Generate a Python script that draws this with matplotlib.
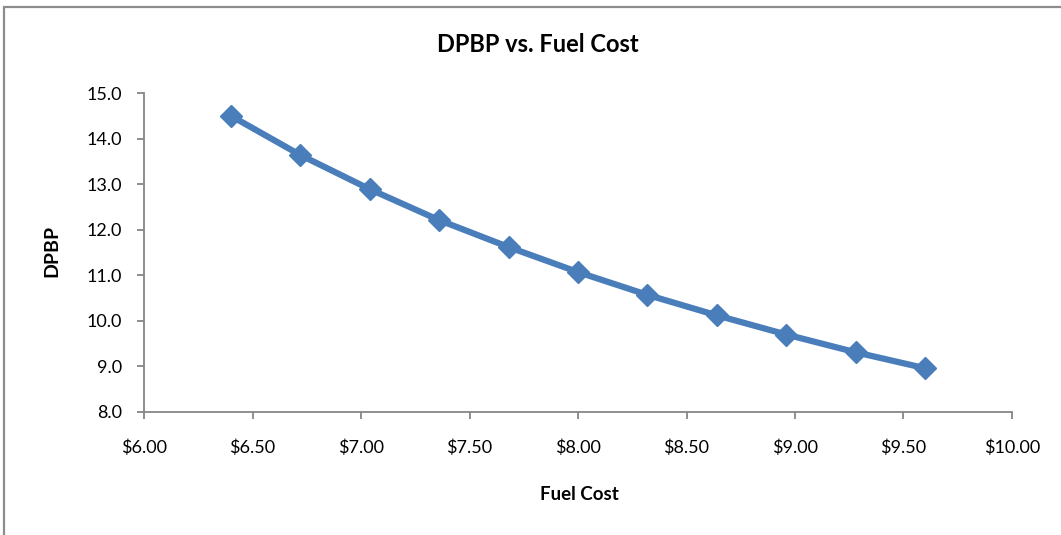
import matplotlib
matplotlib.use("Agg")
import matplotlib.pyplot as plt
from matplotlib.patches import Rectangle
from matplotlib.ticker import FuncFormatter, MultipleLocator

# Discounted payback period versus fuel cost
fuel_cost = [6.40, 6.72, 7.04, 7.36, 7.68, 8.00, 8.32, 8.64, 8.96, 9.28, 9.60]
dpbp = [14.50, 13.64, 12.89, 12.21, 11.62, 11.07, 10.57, 10.12, 9.70, 9.31, 8.96]

plt.rcParams['font.family'] = ['Lato', 'DejaVu Sans']

W, H = 1061, 535
fig = plt.figure(figsize=(W / 100, H / 100), dpi=100)
fig.patch.set_facecolor('white')

# chart-area frame (top and left edges visible)
fig.patches.append(Rectangle((4 / W, -0.2), 1.3, 1 - 6.5 / H + 0.2,
                             transform=fig.transFigure, fill=False,
                             edgecolor='#8c8c8c', linewidth=1.6))

ax = fig.add_axes([144 / W, 1 - 412 / H, (1012 - 144) / W, (412 - 93) / H])

line_color = '#4a7ebb'
ax.plot(fuel_cost, dpbp, color=line_color, linewidth=4.5,
        marker='D', markersize=11.5, markerfacecolor=line_color,
        markeredgecolor=line_color, solid_capstyle='round')

ax.set_xlim(6.0, 10.0)
ax.set_ylim(8.0, 15.0)
ax.xaxis.set_major_locator(MultipleLocator(0.5))
ax.yaxis.set_major_locator(MultipleLocator(1.0))
ax.xaxis.set_major_formatter(FuncFormatter(lambda v, p: f"${v:.2f}"))
ax.yaxis.set_major_formatter(FuncFormatter(lambda v, p: f"{v:.1f}"))

axis_gray = '#868686'
for side in ('top', 'right'):
    ax.spines[side].set_visible(False)
for side in ('left', 'bottom'):
    ax.spines[side].set_color(axis_gray)
    ax.spines[side].set_linewidth(1.3)

ax.tick_params(axis='both', direction='out', length=5, width=1.3,
               color=axis_gray, labelsize=13, labelcolor='black')
ax.tick_params(axis='x', pad=15)
ax.tick_params(axis='y', pad=11)

fig.text(538 / W, 1 - 44 / H, 'DPBP vs. Fuel Cost', ha='center', va='center',
         fontsize=17, fontweight='bold')
fig.text(579 / W, 1 - 494 / H, 'Fuel Cost', ha='center', va='center',
         fontsize=13.5, fontweight='bold')
fig.text(52 / W, 1 - 251 / H, 'DPBP', ha='center', va='center',
         rotation=90, fontsize=14, fontweight='bold')

fig.savefig('out.png', dpi=100, facecolor='white')
